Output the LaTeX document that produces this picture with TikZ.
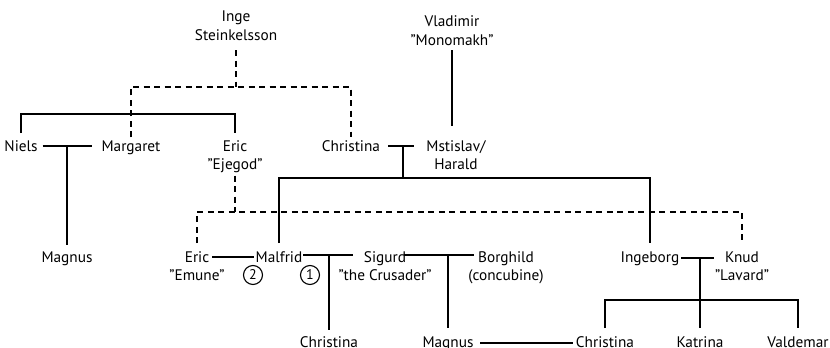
\documentclass[tikz,border=0pt]{standalone}
\usepackage{fontspec}
\setmainfont{PT Sans}
\usetikzlibrary{calc}
\newcommand{\dq}{\symbol{34}}
\begin{document}
\begin{tikzpicture}[x=1pt,y=-1pt,
  person/.style={inner sep=0pt, outer sep=0pt, align=center, anchor=base,
    font=\fontsize{15.3}{18.5}\selectfont},
  rel/.style={line width=2.1pt},
  dashrel/.style={line width=2.1pt, dash pattern=on 6pt off 4.5pt},
  circnum/.style={circle, draw, line width=1.1pt, inner sep=0pt, minimum size=19pt,
    font=\fontsize{14}{14}\selectfont}]
\useasboundingbox (0,0) rectangle (830,348);
% helper rows
\coordinate (yD1) at (0,87);
\coordinate (yS1) at (0,114);
\coordinate (yM) at (0,178);
\coordinate (yD2) at (0,212);
\coordinate (yK) at (0,300);
% generation 1 (base = last line)
\node[person] (inge) at (236,40) {Inge\\Steinkelsson};
\node[person] (vlad) at (452,45) {Vladimir\\\dq Monomakh\dq};
% generation 2
\node[person] (niels) at (21,151) {Niels};
\node[person] (margaret) at (131,151) {Margaret};
\node[person] (ejegod) at (235,169.5) {Eric\\\dq Ejegod\dq};
\node[person] (christina1) at (351,151) {Christina};
\node[person] (mstislav) at (456,169.5) {Mstislav/\\Harald};
% generation 3
\node[person] (magnus1) at (67,262) {Magnus};
\node[person] (emune) at (197,280.5) {Eric\\\dq Emune\dq};
\node[person] (malfrid) at (279,262) {Malfrid};
\node[person] (sigurd) at (385,280.5) {Sigurd\\\dq the Crusader\dq};
\node[person] (borghild) at (506,280.5) {Borghild\\(concubine)};
\node[person] (ingeborg) at (650,262) {Ingeborg};
\node[person] (knud) at (742,280.5) {Knud\\\dq Lavard\dq};
\node[circnum] (c2) at (253,275) {2};
\node[circnum] (c1) at (310,275) {1};
% generation 4
\node[person] (christina2) at (329,347) {Christina};
\node[person] (magnus2) at (448,347) {Magnus};
\node[person] (christina3) at (605,347) {Christina};
\node[person] (katrina) at (700,347) {Katrina};
\node[person] (valdemar) at (798,347) {Valdemar};
% Inge's children (dashed)
\draw[dashrel] ($(inge.south)+(0,10)$) -- (inge.south |- yD1);
\draw[dashrel] ($(margaret.north)+(0,-3)$) -- (margaret.north |- yD1)
  -- (christina1.north |- yD1) -- ($(christina1.north)+(0,-3)$);
% Niels / Eric Ejegod siblings
\draw[rel] ($(niels.north)+(0,-7)$) -- (niels.north |- yS1)
  -- (ejegod.north |- yS1) -- ($(ejegod.north)+(0,-7)$);
% Niels -- Margaret
\draw[rel] ($(niels.east)+(5,0)$) -- ($(niels.east -| margaret.west)+(-10,0)$);
\draw[rel] (magnus1.north |- niels.east) -- ($(magnus1.north)+(0,-6)$);
% Christina -- Mstislav
\draw[rel] ($(christina1.east)+(8,0)$) -- ($(christina1.east -| mstislav.west)+(-12,0)$);
\coordinate (m2) at ($(christina1.east)!0.5!(christina1.east -| mstislav.west)$);
\draw[rel] (m2) -- (m2 |- yM);
% Vladimir -- Mstislav
\draw[rel] ($(vlad.south)+(0,5)$) -- ($(vlad.south |- mstislav.north)+(0,-14)$);
% Mstislav's children
\draw[rel] ($(malfrid.north)+(0,-8)$) -- (malfrid.north |- yM)
  -- (ingeborg.north |- yM) -- ($(ingeborg.north)+(0,-8)$);
% Eric Ejegod's children (dashed)
\draw[dashrel] ($(ejegod.south)+(0,3)$) -- (ejegod.south |- yD2);
\draw[dashrel] ($(emune.north)+(0,-8)$) -- (emune.north |- yD2)
  -- (knud.north |- yD2) -- ($(knud.north)+(0,-8)$);
% Eric Emune -- Malfrid
\draw[rel] ($(malfrid.west)+(-2,0)$) -- ++(-42,0);
% Malfrid -- Sigurd
\draw[rel] ($(malfrid.east)+(1,-2)$) -- ++(50,0);
\draw[rel] ($(christina2.north |- malfrid.east)+(0,-2)$) -- ($(christina2.north)+(0,-6)$);
% Sigurd -- Borghild
\draw[rel] ($(magnus2.north |- malfrid.east)+(-44,-2)$) -- ++(70,0);
\draw[rel] ($(magnus2.north |- malfrid.east)+(0,-2)$) -- ($(magnus2.north)+(0,-8)$);
% Ingeborg -- Knud
\draw[rel] ($(ingeborg.east)+(2,0)$) -- ++(33,0);
\draw[rel] (katrina.north |- ingeborg.east) -- ($(katrina.north)+(0,-8)$);
\draw[rel] ($(christina3.north)+(0,-8)$) -- (christina3.north |- yK)
  -- (valdemar.north |- yK) -- ($(valdemar.north)+(0,-8)$);
% Magnus -- Christina
\draw[rel] ($(magnus2.east)+(7,0)$) -- ($(magnus2.east -| christina3.west)+(-3,0)$);
\end{tikzpicture}
\end{document}
